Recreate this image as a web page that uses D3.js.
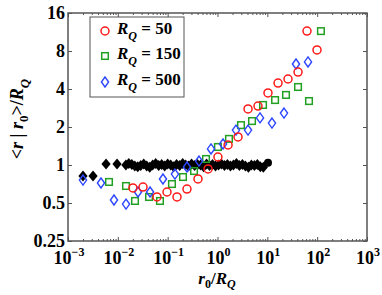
<!DOCTYPE html>
<html>
<head>
<meta charset="utf-8">
<script src="https://cdn.jsdelivr.net/npm/d3@7"></script>
<style>
  body { margin: 0; background: #fff; }
  text { font-family: "Liberation Serif", "Times New Roman", serif; font-weight: bold; fill: #000; }
</style>
</head>
<body>
<svg id="chart" width="382" height="295"></svg>
<script>
// values
var redX = [0.0201, 0.032, 0.061, 0.097, 0.154, 0.244, 0.406, 0.646, 1.02, 1.63, 2.58, 4.1, 6.5, 10.3, 16.4, 26, 41.3, 62.5, 99.3];
var redY = [0.658, 0.669, 0.558, 0.611, 0.558, 0.645, 0.775, 0.93, 1.157, 1.44, 1.67, 2.78, 2.93, 3.72, 4.46, 4.8, 5.45, 11.5, 8.15];

var greenX = [0.00665, 0.0146, 0.0221, 0.0423, 0.0701, 0.122, 0.203, 0.338, 0.588, 1.02, 1.70, 2.96, 4.93, 8.2, 14.3, 23.7, 41.3, 68.6, 119];
var greenY = [0.734, 0.682, 0.519, 0.558, 0.519, 0.707, 0.803, 0.896, 1.116, 1.389, 1.61, 2.07, 2.23, 2.99, 3.27, 3.59, 4.15, 3.21, 11.5];

var blueX = [0.002, 0.00459, 0.00837, 0.0146, 0.0254, 0.0443, 0.0805, 0.140, 0.244, 0.426, 0.741, 1.29, 2.35, 4.1, 7.13, 12.4, 21.6, 37.6, 65.5];
var blueY = [0.76, 0.72, 0.528, 0.49, 0.611, 0.611, 0.775, 0.848, 0.964, 1.075, 1.34, 1.467, 1.89, 1.89, 2.36, 2.15, 2.58, 6.31, 6.55];

var blackX = [0.002, 0.00318, 0.0058, 0.00964,
  0.0145, 0.0166, 0.0191, 0.0219, 0.0251, 0.0288, 0.0331, 0.0380, 0.0437, 0.0501, 0.0575, 0.0661,
  0.0759, 0.0871, 0.100, 0.115, 0.132, 0.151, 0.174, 0.200, 0.229, 0.263, 0.302, 0.347, 0.398,
  0.457, 0.525, 0.603, 0.692, 0.794, 0.912, 1.05, 1.20, 1.38, 1.58, 1.82, 2.09, 2.40, 2.75, 3.16,
  3.63, 4.17, 4.79, 5.50, 6.31, 7.24, 8.32, 10.3];
var blackY = [0.82, 0.82, 1.02, 1.02,
  1.00, 1.03, 1.01, 0.98, 0.97, 0.99, 1.02, 0.98, 0.96, 1.00, 1.03, 0.99,
  1.01, 0.98, 1.02, 1.00, 0.97, 1.01, 0.99, 1.03, 1.00, 0.98, 1.02, 0.99, 1.01,
  1.00, 0.97, 1.02, 0.99, 1.01, 0.98, 1.00, 1.02, 0.99, 1.01, 0.98, 1.00, 1.03, 0.99, 1.01,
  0.98, 0.96, 1.00, 0.99, 1.01, 0.97, 0.96, 1.04];

var xMajor = [1e-3, 1e-2, 1e-1, 1, 1e1, 1e2, 1e3];
var xExp = ["\u22123", "\u22122", "\u22121", "0", "1", "2", "3"];
var yMajor = [0.25, 0.5, 1, 2, 4, 8, 16];
var yLabels = ["0.25", "0.5", "1", "2", "4", "8", "16"];
var legendNames = ["50", "150", "500"];

var svg = d3.select("#chart");
var pLeft = 68, pRight = 367, pTop = 13, pBottom = 241;

var x = d3.scaleLog().base(10).domain([1e-3, 1e3]).range([pLeft, pRight]);
var y = d3.scaleLog().base(2).domain([0.25, 16]).range([pBottom, pTop]);

var xMinor = [];
xMajor.slice(0, -1).forEach(function (d) {
  for (var k = 2; k <= 9; k++) xMinor.push(d * k);
});

var axisColor = "#555";

function styleAxis(g) {
  g.select(".domain").remove();
  g.selectAll("line").attr("stroke", axisColor).attr("stroke-width", 1);
  g.selectAll("text").remove();
}

// ticks, pointing inward on all four sides
svg.append("g").attr("transform", "translate(0," + pBottom + ")")
  .call(d3.axisBottom(x).tickValues(xMajor).tickSize(-4)).call(styleAxis);
svg.append("g").attr("transform", "translate(0," + pBottom + ")")
  .call(d3.axisBottom(x).tickValues(xMinor).tickSize(-2)).call(styleAxis);
svg.append("g").attr("transform", "translate(0," + pTop + ")")
  .call(d3.axisTop(x).tickValues(xMajor).tickSize(-4)).call(styleAxis);
svg.append("g").attr("transform", "translate(0," + pTop + ")")
  .call(d3.axisTop(x).tickValues(xMinor).tickSize(-2)).call(styleAxis);
svg.append("g").attr("transform", "translate(" + pLeft + ",0)")
  .call(d3.axisLeft(y).tickValues(yMajor).tickSize(-4)).call(styleAxis);
svg.append("g").attr("transform", "translate(" + pRight + ",0)")
  .call(d3.axisRight(y).tickValues(yMajor).tickSize(-4)).call(styleAxis);

svg.append("rect")
  .attr("x", pLeft).attr("y", pTop)
  .attr("width", pRight - pLeft).attr("height", pBottom - pTop)
  .attr("fill", "none").attr("stroke", axisColor).attr("stroke-width", 1.5);

// tick labels
var xl = svg.append("g").selectAll("text").data(xMajor).enter().append("text")
  .attr("x", function (d) { return x(d) + 1; })
  .attr("y", 264)
  .attr("text-anchor", "middle")
  .style("font-size", "18px");
xl.append("tspan").text("10");
xl.append("tspan").attr("dy", -8).style("font-size", "12px")
  .text(function (d, i) { return xExp[i]; });

svg.append("g").selectAll("text").data(yMajor).enter().append("text")
  .attr("x", 65)
  .attr("y", function (d) { return y(d); })
  .attr("dy", "0.33em")
  .attr("text-anchor", "end")
  .style("font-size", "18px")
  .text(function (d, i) { return yLabels[i]; });

// axis titles
var xt = svg.append("text").attr("x", 217).attr("y", 284)
  .attr("text-anchor", "middle").style("font-size", "17px");
xt.append("tspan").style("font-style", "italic").text("r");
xt.append("tspan").attr("dy", 4).style("font-size", "12px").text("0");
xt.append("tspan").attr("dy", -4).text("/");
xt.append("tspan").style("font-style", "italic").text("R");
xt.append("tspan").attr("dy", 4).style("font-size", "12px").style("font-style", "italic").text("Q");

var yt = svg.append("text")
  .attr("transform", "translate(23,119) rotate(-90)")
  .attr("text-anchor", "middle").style("font-size", "18px");
yt.append("tspan").text("<");
yt.append("tspan").style("font-style", "italic").text("r");
yt.append("tspan").text(" | ");
yt.append("tspan").style("font-style", "italic").text("r");
yt.append("tspan").attr("dy", 5).style("font-size", "13px").text("0");
yt.append("tspan").attr("dy", -5).text(">/");
yt.append("tspan").style("font-style", "italic").text("R");
yt.append("tspan").attr("dy", 6).style("font-size", "13px").style("font-style", "italic").text("Q");

// marker shapes
function diamond(w, h) { return "M0," + (-h) + "L" + w + ",0L0," + h + "L" + (-w) + ",0Z"; }
var red = "#ff1a1a", green = "#22a022", blue = "#2d46ff";

function zip(a, b) { return a.map(function (d, i) { return [d, b[i]]; }); }

var plot = svg.append("g");

// black reference series
var blk = zip(blackX, blackY);
plot.selectAll(".blk").data(blk.slice(0, -1)).enter().append("path")
  .attr("class", "blk")
  .attr("transform", function (d) { return "translate(" + x(d[0]) + "," + y(d[1]) + ")"; })
  .attr("d", diamond(4.6, 5.5))
  .attr("fill", "#000");
plot.append("circle")
  .attr("cx", x(blk[blk.length - 1][0])).attr("cy", y(blk[blk.length - 1][1]))
  .attr("r", 4).attr("fill", "#000");

plot.selectAll(".grn").data(zip(greenX, greenY)).enter().append("rect")
  .attr("x", function (d) { return x(d[0]) - 3.3; })
  .attr("y", function (d) { return y(d[1]) - 3.3; })
  .attr("width", 6.6).attr("height", 6.6)
  .attr("fill", "none").attr("stroke", green).attr("stroke-width", 1.5);

plot.selectAll(".blu").data(zip(blueX, blueY)).enter().append("path")
  .attr("transform", function (d) { return "translate(" + x(d[0]) + "," + y(d[1]) + ")"; })
  .attr("d", diamond(3.6, 5))
  .attr("fill", "none").attr("stroke", blue).attr("stroke-width", 1.4);

plot.selectAll(".red").data(zip(redX, redY)).enter().append("circle")
  .attr("cx", function (d) { return x(d[0]); })
  .attr("cy", function (d) { return y(d[1]); })
  .attr("r", 4)
  .attr("fill", "none").attr("stroke", red).attr("stroke-width", 1.5);

// legend
var lg = svg.append("g");
lg.append("rect").attr("x", 90).attr("y", 17).attr("width", 94).attr("height", 80)
  .attr("fill", "#fff").attr("stroke", axisColor).attr("stroke-width", 1);
var rows = [31, 56, 82];
lg.append("circle").attr("cx", 105).attr("cy", rows[0]).attr("r", 4)
  .attr("fill", "none").attr("stroke", red).attr("stroke-width", 1.5);
lg.append("rect").attr("x", 105 - 3.3).attr("y", rows[1] - 3.3).attr("width", 6.6).attr("height", 6.6)
  .attr("fill", "none").attr("stroke", green).attr("stroke-width", 1.5);
lg.append("path").attr("transform", "translate(105," + rows[2] + ")").attr("d", diamond(3.6, 5))
  .attr("fill", "none").attr("stroke", blue).attr("stroke-width", 1.4);
legendNames.forEach(function (n, i) {
  var t = lg.append("text").attr("x", 117).attr("y", rows[i] + 3).style("font-size", "17px");
  t.append("tspan").style("font-style", "italic").text("R");
  t.append("tspan").attr("dy", 6).style("font-size", "12px").style("font-style", "italic").text("Q");
  t.append("tspan").attr("dy", -6).text(" = " + n);
});
</script>
</body>
</html>
